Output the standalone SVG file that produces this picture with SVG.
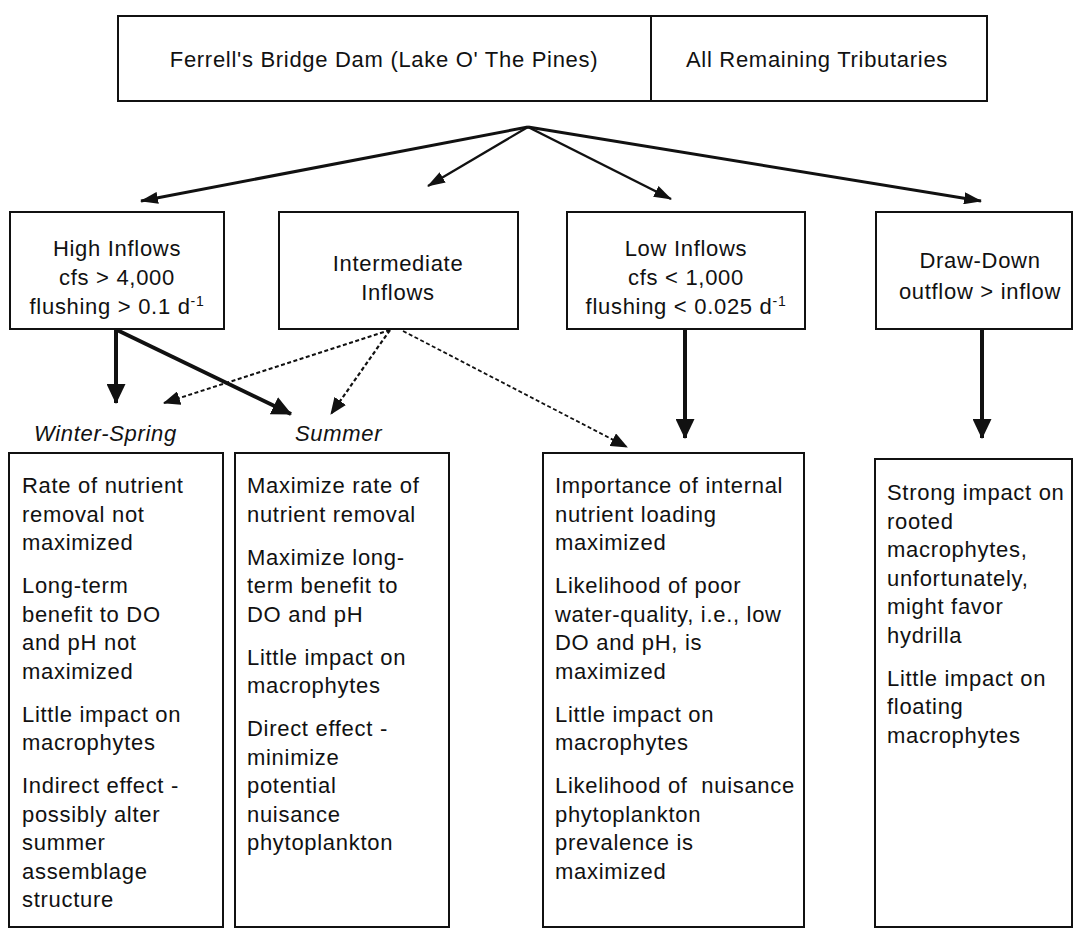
<svg xmlns="http://www.w3.org/2000/svg" width="1080" height="928" viewBox="0 0 1080 928">
<style>
.box{fill:#fff;stroke:#111;stroke-width:2}
.t{font-family:"Liberation Sans",Arial,sans-serif;font-size:22px;fill:#111;letter-spacing:0.7px}
.c{text-anchor:middle}
.i{font-style:italic}
.ln{stroke:#111;fill:none}
.sup{font-size:14px}
</style>
<defs>
<marker id="ah" viewBox="0 0 18 12" refX="17" refY="6" markerWidth="18" markerHeight="12" markerUnits="userSpaceOnUse" orient="auto"><path d="M0,0 L18,6 L0,12 z" fill="#111"/></marker>
<marker id="ahb" viewBox="0 0 20 19" refX="19" refY="9.5" markerWidth="20" markerHeight="19" markerUnits="userSpaceOnUse" orient="auto"><path d="M0,0 L20,9.5 L0,19 z" fill="#111"/></marker>
<marker id="ahd" viewBox="0 0 17 14" refX="16" refY="7" markerWidth="17" markerHeight="14" markerUnits="userSpaceOnUse" orient="auto"><path d="M0,0 L17,7 L0,14 z" fill="#111"/></marker>
</defs>
<rect width="1080" height="928" fill="#fff"/>

<g id="top">
<rect class="box" x="118" y="16" width="869" height="85"/>
<line class="ln" x1="651" y1="16" x2="651" y2="101" stroke-width="2"/>
<text class="t c" x="384" y="67">Ferrell's Bridge Dam (Lake O' The Pines)</text>
<text class="t c" x="817" y="67">All Remaining Tributaries</text>
</g>

<g id="high">
<rect class="box" x="10" y="212" width="214" height="117"/>
<text class="t c" x="117" y="256">High Inflows</text>
<text class="t c" x="117" y="285">cfs &gt; 4,000</text>
<text class="t c" x="117" y="314">flushing &gt; 0.1 d<tspan class="sup" dy="-8">-1</tspan></text>
</g>
<g id="intermediate">
<rect class="box" x="279" y="212" width="239" height="117"/>
<text class="t c" x="398" y="271">Intermediate</text>
<text class="t c" x="398" y="300">Inflows</text>
</g>
<g id="low">
<rect class="box" x="567" y="212" width="238" height="117"/>
<text class="t c" x="686" y="256">Low Inflows</text>
<text class="t c" x="686" y="285">cfs &lt; 1,000</text>
<text class="t c" x="686" y="314">flushing &lt; 0.025 d<tspan class="sup" dy="-8">-1</tspan></text>
</g>
<g id="drawdown">
<rect class="box" x="876" y="212" width="196" height="117"/>
<text class="t c" x="980" y="268">Draw-Down</text>
<text class="t c" x="980" y="299">outflow &gt; inflow</text>
</g>

<g id="winter-label"><text class="t i" x="34" y="441">Winter-Spring</text></g>
<g id="summer-label"><text class="t i" x="295" y="441">Summer</text></g>

<g id="connectors">
<line class="ln" x1="528" y1="127" x2="141" y2="201" stroke-width="3" marker-end="url(#ah)"/>
<line class="ln" x1="528" y1="127" x2="428" y2="186" stroke-width="2.2" marker-end="url(#ah)"/>
<line class="ln" x1="528" y1="127" x2="671" y2="199" stroke-width="2.5" marker-end="url(#ah)"/>
<line class="ln" x1="528" y1="127" x2="981" y2="201" stroke-width="3" marker-end="url(#ah)"/>
<line class="ln" x1="116" y1="329" x2="116" y2="403" stroke-width="4" marker-end="url(#ahb)"/>
<line class="ln" x1="117" y1="330" x2="291" y2="414" stroke-width="4" marker-end="url(#ahb)"/>
<line class="ln" x1="390" y1="330" x2="164" y2="403" stroke-width="2" stroke-dasharray="4 2.5" marker-end="url(#ahd)"/>
<line class="ln" x1="390" y1="330" x2="331" y2="414" stroke-width="2.2" stroke-dasharray="4 2.5" marker-end="url(#ahd)"/>
<line class="ln" x1="403" y1="331" x2="627" y2="447" stroke-width="1.8" stroke-dasharray="4 2.5" marker-end="url(#ahd)"/>
<line class="ln" x1="685" y1="329" x2="685" y2="438" stroke-width="4" marker-end="url(#ahb)"/>
<line class="ln" x1="982" y1="329" x2="982" y2="438" stroke-width="4" marker-end="url(#ahb)"/>
</g>

<g id="winter-box">
<rect class="box" x="9" y="453" width="214" height="474"/>
<text class="t">
<tspan x="22" y="493">Rate of nutrient</tspan>
<tspan x="22" y="521.5">removal not</tspan>
<tspan x="22" y="550">maximized</tspan>
<tspan x="22" y="593">Long-term</tspan>
<tspan x="22" y="621.5">benefit to DO</tspan>
<tspan x="22" y="650">and pH not</tspan>
<tspan x="22" y="678.5">maximized</tspan>
<tspan x="22" y="721.5">Little impact on</tspan>
<tspan x="22" y="750">macrophytes</tspan>
<tspan x="22" y="793">Indirect effect -</tspan>
<tspan x="22" y="821.5">possibly alter</tspan>
<tspan x="22" y="850">summer</tspan>
<tspan x="22" y="878.5">assemblage</tspan>
<tspan x="22" y="907">structure</tspan>
</text>
</g>

<g id="summer-box">
<rect class="box" x="235" y="453" width="214" height="474"/>
<text class="t">
<tspan x="247" y="493">Maximize rate of</tspan>
<tspan x="247" y="521.5">nutrient removal</tspan>
<tspan x="247" y="564.5">Maximize long-</tspan>
<tspan x="247" y="593">term benefit to</tspan>
<tspan x="247" y="621.5">DO and pH</tspan>
<tspan x="247" y="664.5">Little impact on</tspan>
<tspan x="247" y="693">macrophytes</tspan>
<tspan x="247" y="736">Direct effect -</tspan>
<tspan x="247" y="764.5">minimize</tspan>
<tspan x="247" y="793">potential</tspan>
<tspan x="247" y="821.5">nuisance</tspan>
<tspan x="247" y="850">phytoplankton</tspan>
</text>
</g>

<g id="low-box">
<rect class="box" x="543" y="453" width="261" height="474"/>
<text class="t" xml:space="preserve"><tspan x="555" y="493">Importance of internal</tspan><tspan x="555" y="521.5">nutrient loading</tspan><tspan x="555" y="550">maximized</tspan><tspan x="555" y="593">Likelihood of poor</tspan><tspan x="555" y="621.5">water-quality, i.e., low</tspan><tspan x="555" y="650">DO and pH, is</tspan><tspan x="555" y="678.5">maximized</tspan><tspan x="555" y="721.5">Little impact on</tspan><tspan x="555" y="750">macrophytes</tspan><tspan x="555" y="793">Likelihood of  nuisance</tspan><tspan x="555" y="821.5">phytoplankton</tspan><tspan x="555" y="850">prevalence is</tspan><tspan x="555" y="878.5">maximized</tspan></text>
</g>

<g id="drawdown-box">
<rect class="box" x="875" y="459" width="197" height="468"/>
<text class="t">
<tspan x="887" y="500">Strong impact on</tspan>
<tspan x="887" y="528.5">rooted</tspan>
<tspan x="887" y="557">macrophytes,</tspan>
<tspan x="887" y="585.5">unfortunately,</tspan>
<tspan x="887" y="614">might favor</tspan>
<tspan x="887" y="642.5">hydrilla</tspan>
<tspan x="887" y="685.5">Little impact on</tspan>
<tspan x="887" y="714">floating</tspan>
<tspan x="887" y="742.5">macrophytes</tspan>
</text>
</g>
</svg>
